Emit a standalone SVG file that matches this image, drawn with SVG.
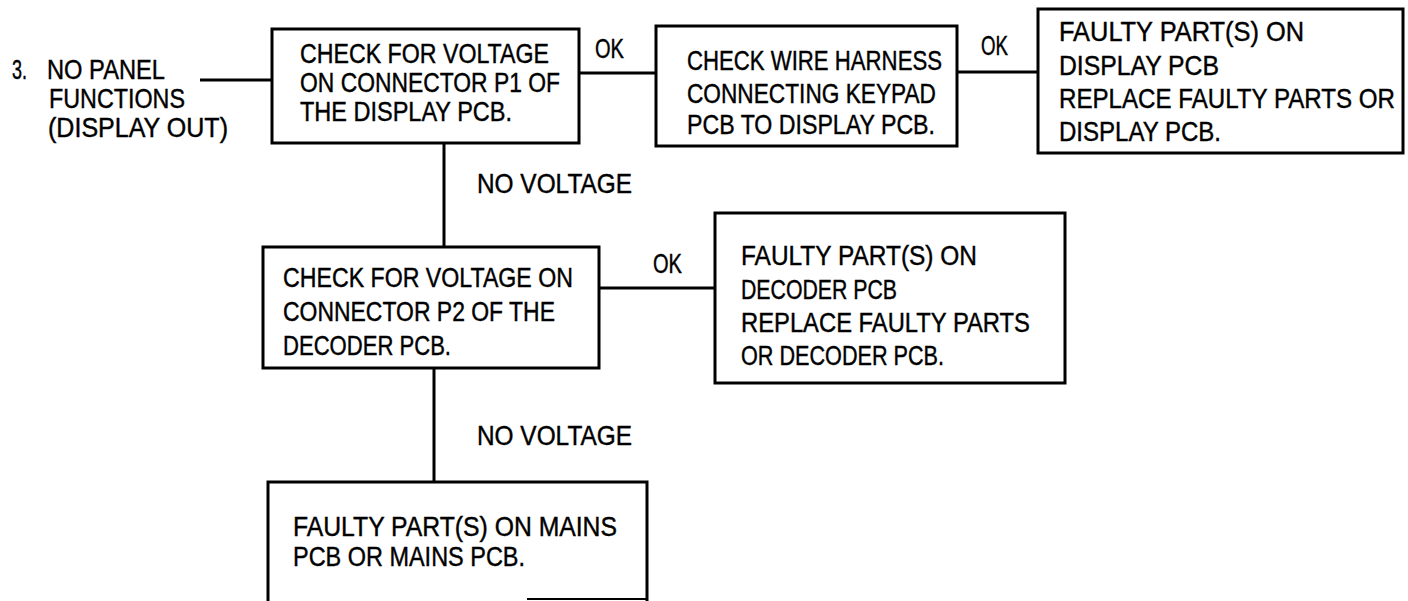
<svg xmlns="http://www.w3.org/2000/svg" width="1408" height="601" viewBox="0 0 1408 601">
<style>
.box{fill:#fff;stroke:#000;stroke-width:3}
.ln{fill:none;stroke:#000;stroke-width:3}
text{font-family:"Liberation Sans",Arial,sans-serif;font-size:23px;fill:#000;stroke:#000;stroke-width:0.35}
</style>
<rect width="1408" height="601" fill="#fff"/>
<g id="connectors">
<line class="ln" x1="200" y1="80" x2="272" y2="80"/>
<line class="ln" x1="579" y1="73" x2="656" y2="73"/>
<line class="ln" x1="957" y1="72" x2="1038" y2="72"/>
<line class="ln" x1="444" y1="143" x2="444" y2="247"/>
<line class="ln" x1="599" y1="288" x2="715" y2="288"/>
<line class="ln" x1="434" y1="368" x2="434" y2="482"/>
<g transform="scale(1,1.2)">
<text x="595" y="48.33" textLength="29" lengthAdjust="spacingAndGlyphs">OK</text>
<text x="981" y="45.83" textLength="27" lengthAdjust="spacingAndGlyphs">OK</text>
<text x="653" y="227.5" textLength="29" lengthAdjust="spacingAndGlyphs">OK</text>
<text x="477" y="160.83" textLength="155" lengthAdjust="spacingAndGlyphs">NO VOLTAGE</text>
<text x="477" y="370.83" textLength="155" lengthAdjust="spacingAndGlyphs">NO VOLTAGE</text>
</g>
</g>
<g id="start">
<g transform="scale(1,1.2)">
<text x="12" y="65.83" textLength="15" lengthAdjust="spacingAndGlyphs">3.</text>
<text x="47" y="65.83" textLength="118" lengthAdjust="spacingAndGlyphs">NO PANEL</text>
<text x="49" y="90" textLength="136" lengthAdjust="spacingAndGlyphs">FUNCTIONS</text>
<text x="48" y="114.17" textLength="180" lengthAdjust="spacingAndGlyphs">(DISPLAY OUT)</text>
</g>
</g>
<g id="check-p1">
<rect class="box" x="272" y="29" width="307" height="114"/>
<g transform="scale(1,1.2)">
<text x="300" y="52.5" textLength="249" lengthAdjust="spacingAndGlyphs">CHECK FOR VOLTAGE</text>
<text x="300" y="76.67" textLength="260" lengthAdjust="spacingAndGlyphs">ON CONNECTOR P1 OF</text>
<text x="300" y="100.83" textLength="212" lengthAdjust="spacingAndGlyphs">THE DISPLAY PCB.</text>
</g>
</g>
<g id="check-harness">
<rect class="box" x="656" y="26" width="301" height="120"/>
<g transform="scale(1,1.2)">
<text x="687" y="58.33" textLength="255" lengthAdjust="spacingAndGlyphs">CHECK WIRE HARNESS</text>
<text x="687" y="85.83" textLength="249" lengthAdjust="spacingAndGlyphs">CONNECTING KEYPAD</text>
<text x="687" y="111.67" textLength="248" lengthAdjust="spacingAndGlyphs">PCB TO DISPLAY PCB.</text>
</g>
</g>
<g id="display-faulty">
<rect class="box" x="1038" y="9" width="365" height="144"/>
<g transform="scale(1,1.2)">
<text x="1059" y="34.17" textLength="245" lengthAdjust="spacingAndGlyphs">FAULTY PART(S) ON</text>
<text x="1059" y="62.5" textLength="160" lengthAdjust="spacingAndGlyphs">DISPLAY PCB</text>
<text x="1059" y="90" textLength="336" lengthAdjust="spacingAndGlyphs">REPLACE FAULTY PARTS OR</text>
<text x="1059" y="117.5" textLength="162" lengthAdjust="spacingAndGlyphs">DISPLAY PCB.</text>
</g>
</g>
<g id="check-p2">
<rect class="box" x="263" y="247" width="336" height="121"/>
<g transform="scale(1,1.2)">
<text x="283" y="239.17" textLength="290" lengthAdjust="spacingAndGlyphs">CHECK FOR VOLTAGE ON</text>
<text x="283" y="267.5" textLength="272" lengthAdjust="spacingAndGlyphs">CONNECTOR P2 OF THE</text>
<text x="283" y="295.83" textLength="168" lengthAdjust="spacingAndGlyphs">DECODER PCB.</text>
</g>
</g>
<g id="decoder-faulty">
<rect class="box" x="715" y="213" width="350" height="170"/>
<g transform="scale(1,1.2)">
<text x="741" y="220.83" textLength="236" lengthAdjust="spacingAndGlyphs">FAULTY PART(S) ON</text>
<text x="741" y="249.17" textLength="156" lengthAdjust="spacingAndGlyphs">DECODER PCB</text>
<text x="741" y="276.67" textLength="289" lengthAdjust="spacingAndGlyphs">REPLACE FAULTY PARTS</text>
<text x="741" y="304.17" textLength="203" lengthAdjust="spacingAndGlyphs">OR DECODER PCB.</text>
</g>
</g>
<g id="mains-faulty">
<path class="ln" d="M268,601 V482 H647 V601"/>
<line x1="527" y1="599" x2="647" y2="599" stroke="#000" stroke-width="2"/>
<g transform="scale(1,1.2)">
<text x="293" y="446.67" textLength="324" lengthAdjust="spacingAndGlyphs">FAULTY PART(S) ON MAINS</text>
<text x="293" y="471.67" textLength="232" lengthAdjust="spacingAndGlyphs">PCB OR MAINS PCB.</text>
</g>
</g>
</svg>
